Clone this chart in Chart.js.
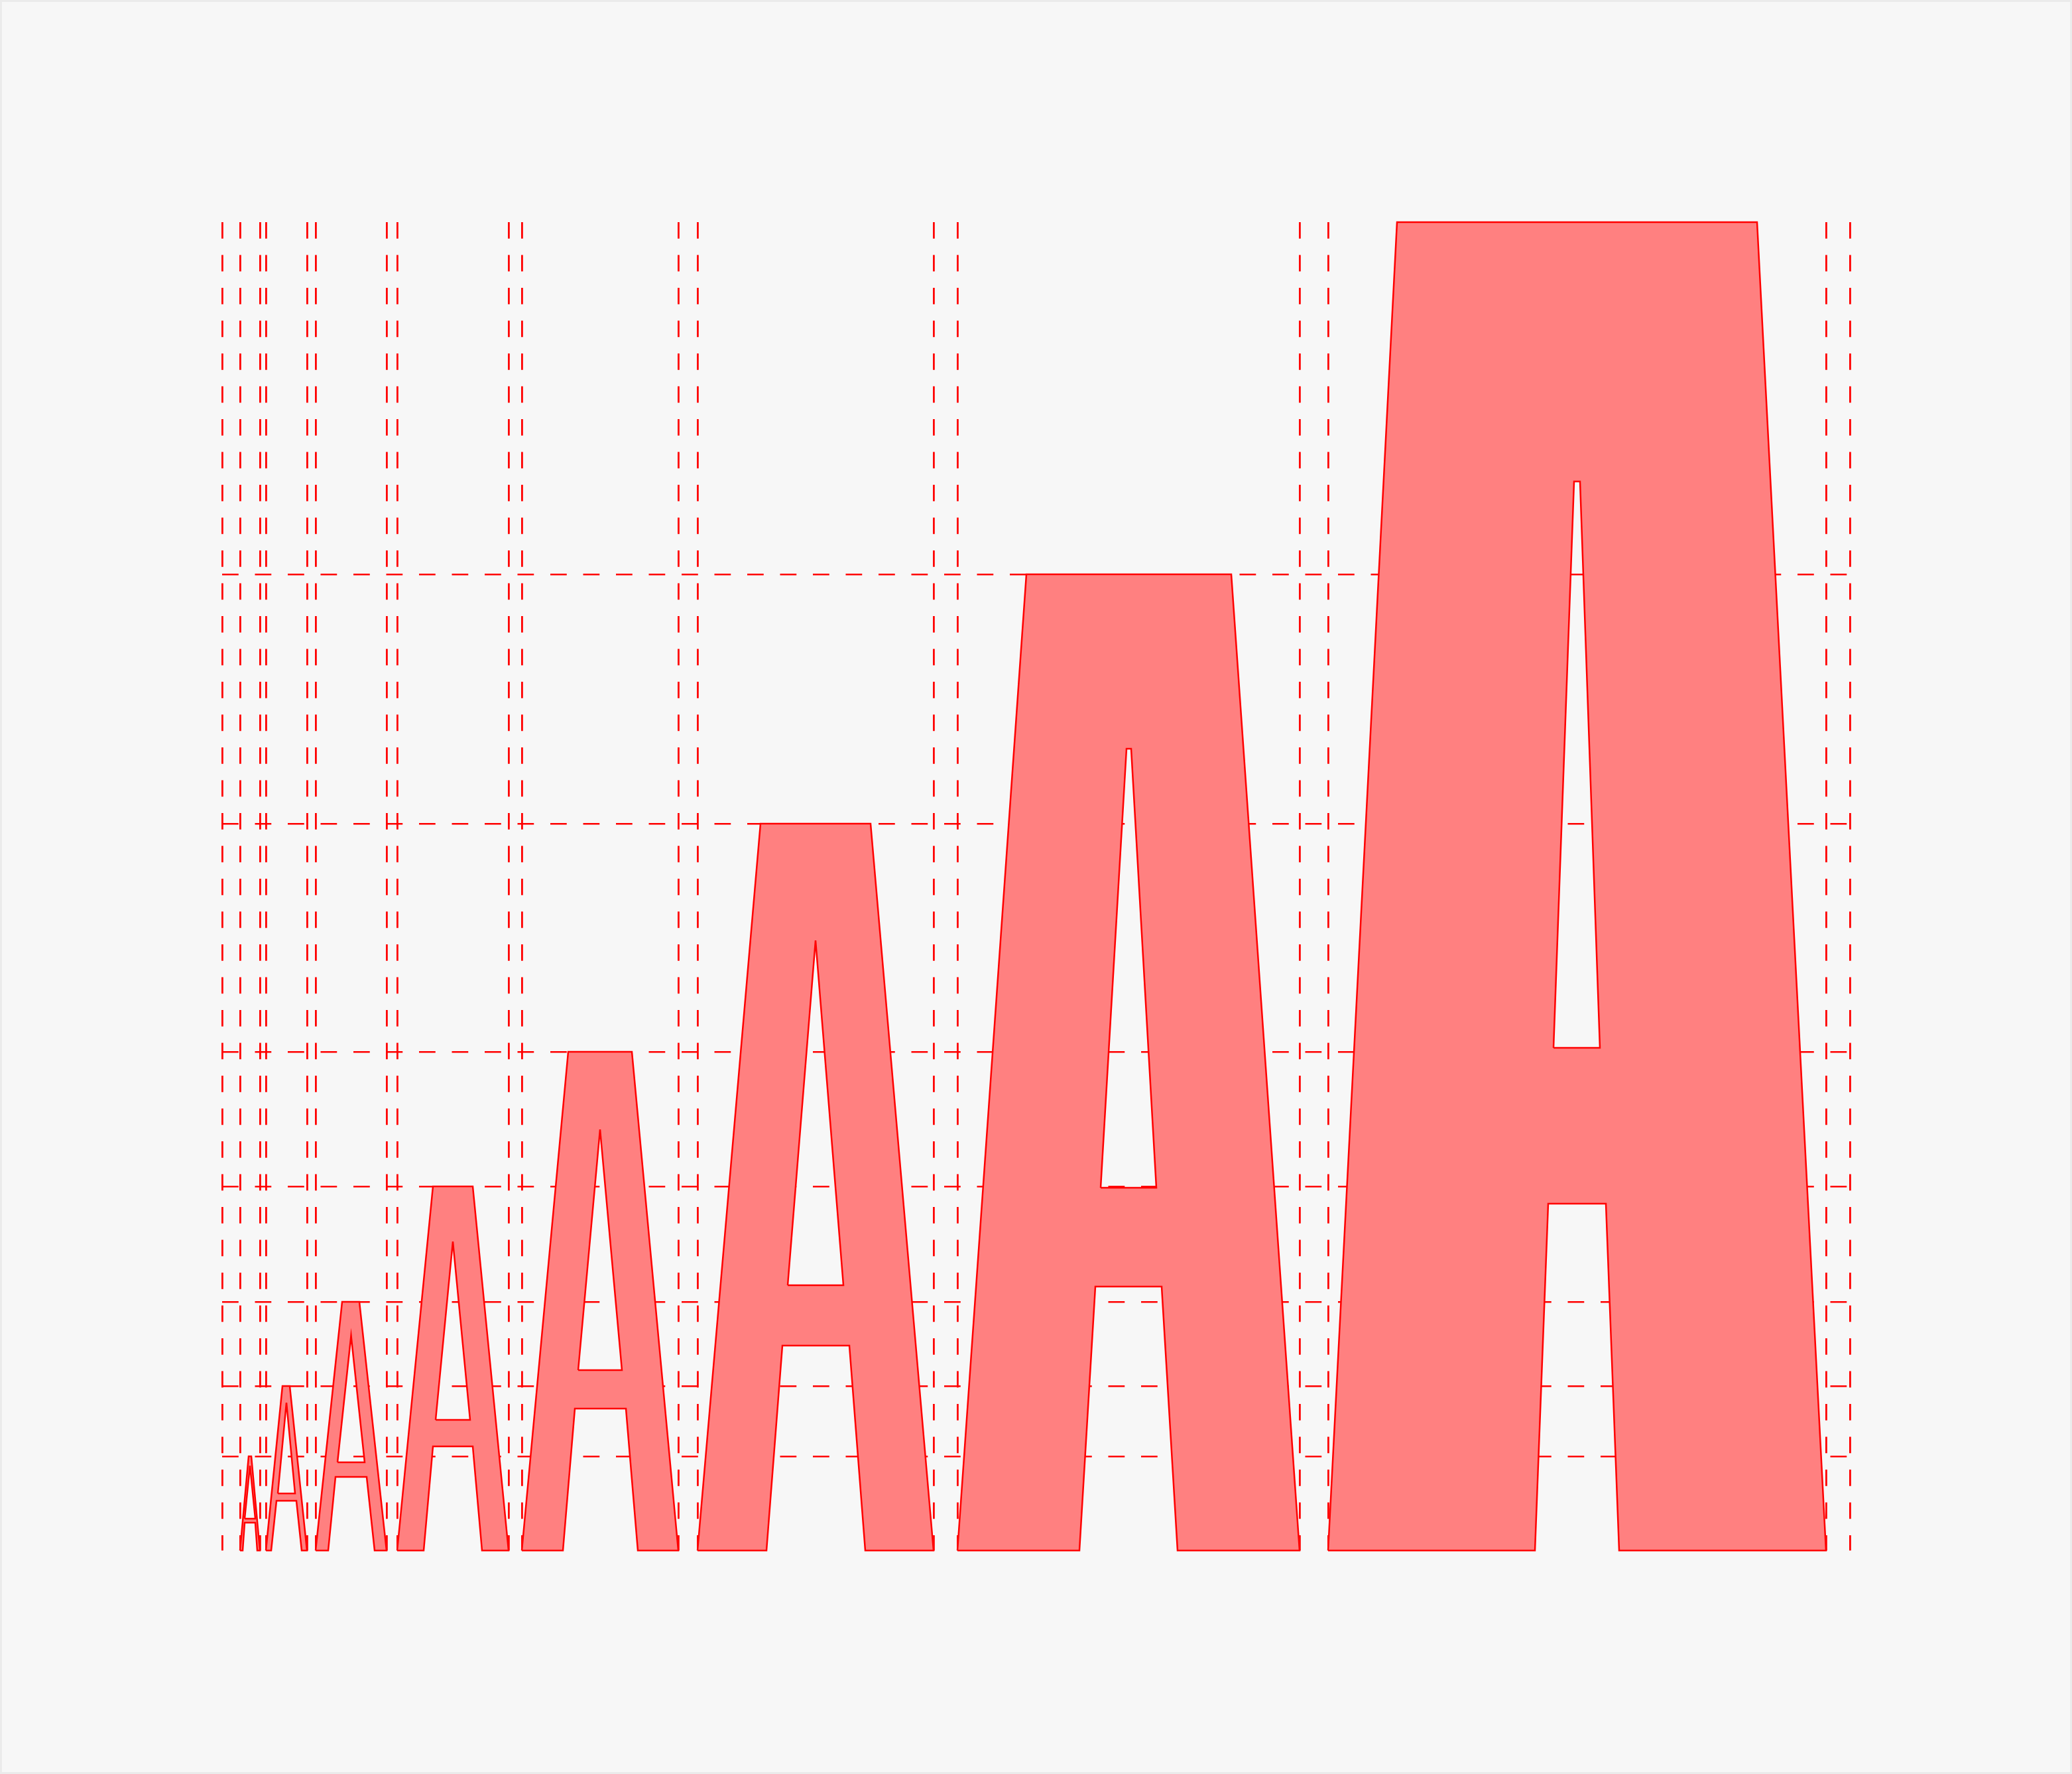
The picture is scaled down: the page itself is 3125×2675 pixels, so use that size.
<!DOCTYPE html>
<html>
<head>
    <title>Glyph extents</title>
    <script src="https://cdn.jsdelivr.net/npm/chart.js"></script>
    <style>
        html, body { margin: 0; padding: 0; background: #f7f7f7; }
        #frame { position: absolute; left: 0; top: 0; width: 3125px; height: 2675px; box-sizing: border-box; border: 3px solid #ebebeb; pointer-events: none; }
        #glyphChart { position: absolute; left: 0; top: 0; }
    </style>
</head>
<body>
    <canvas id="glyphChart" width="3125" height="2675"></canvas>
    <div id="frame"></div>
    <script>
        // axis ranges (data units)
        const xRange = [0, 245.5];
        const yRange = [0, 200.3];

        // dashed guide lines at the glyph extents
        const xLines = [0, 2.7, 5.7, 6.6, 12.8, 14.1, 24.8, 26.4, 43.2, 45.2, 68.8, 71.7, 107.3, 110.9, 162.5, 166.8, 241.9, 245.5];
        const yLines = [14.2, 24.8, 37.5, 54.9, 75.2, 109.6, 147.2];

        // outer contour of each "A": left foot, top left, top right, right foot,
        // right leg inside, bar right, bar left, left leg inside
        const outerX = [
            [2.7, 4.0, 4.4, 5.7, 5.3, 5.0, 3.4, 3.1],
            [6.6, 9.1, 10.2, 12.8, 12.0, 11.2, 8.2, 7.4],
            [14.1, 18.1, 20.7, 24.8, 23.0, 21.8, 17.1, 16.0],
            [26.4, 31.8, 37.8, 43.2, 39.2, 37.8, 31.8, 30.4],
            [45.2, 52.2, 61.8, 68.8, 62.7, 60.9, 53.2, 51.4],
            [71.7, 81.2, 97.8, 107.3, 97.0, 94.6, 84.5, 82.1],
            [110.9, 121.3, 152.2, 162.5, 144.1, 141.7, 131.7, 129.3],
            [166.8, 177.2, 231.5, 241.9, 210.7, 208.7, 200.0, 198.0]
        ];
        const outerY = [
            [0, 14.2, 14.2, 0, 0, 4.2, 4.2, 0],
            [0, 24.8, 24.8, 0, 0, 7.5, 7.5, 0],
            [0, 37.5, 37.5, 0, 0, 11.1, 11.1, 0],
            [0, 54.9, 54.9, 0, 0, 15.7, 15.7, 0],
            [0, 75.2, 75.2, 0, 0, 21.4, 21.4, 0],
            [0, 109.6, 109.6, 0, 0, 30.9, 30.9, 0],
            [0, 147.2, 147.2, 0, 0, 39.8, 39.8, 0],
            [0, 200.3, 200.3, 0, 0, 52.3, 52.3, 0]
        ];

        // counter (hole) of each "A": bottom left, bottom right, top right, top left
        const holeX = [
            [3.4, 5.0, 4.2, 4.2],
            [8.4, 11.0, 9.7, 9.7],
            [17.4, 21.5, 19.45, 19.45],
            [32.2, 37.4, 34.8, 34.8],
            [53.7, 60.3, 57.0, 57.0],
            [85.3, 93.7, 89.5, 89.5],
            [132.5, 140.9, 137.1, 136.4],
            [200.8, 207.8, 204.8, 203.9]
        ];
        const holeY = [
            [4.8, 4.8, 12.8, 12.8],
            [8.6, 8.6, 22.3, 22.3],
            [13.3, 13.3, 32.4, 32.4],
            [19.7, 19.7, 46.6, 46.6],
            [27.2, 27.2, 63.5, 63.5],
            [40.0, 40.0, 92.0, 92.0],
            [54.7, 54.7, 120.9, 120.9],
            [75.8, 75.8, 161.2, 161.2]
        ];

        const toPts = (xs, ys) => xs.map((x, i) => ({x: x, y: ys[i]}));

        const datasets = [];
        outerX.forEach((xs, k) => {
            const outer = toPts(xs, outerY[k]);
            const hole = toPts(holeX[k], holeY[k]);

            // fill path: outer contour, jump into the counter, go round it the other way, jump back
            const fillPath = outer.slice(0, 7)
                .concat(hole, [hole[0], outer[6], outer[7], outer[0]]);
            datasets.push({
                data: fillPath,
                showLine: true,
                fill: 'shape',
                backgroundColor: '#ff8080',
                borderWidth: 0,
                borderColor: 'rgba(0,0,0,0)',
                pointRadius: 0,
                order: 2
            });

            // outlines
            [outer.concat([outer[0]]), hole.concat([hole[0]])].forEach(path => {
                datasets.push({
                    data: path,
                    showLine: true,
                    fill: false,
                    borderColor: '#ff0000',
                    borderWidth: 2.5,
                    borderJoinStyle: 'miter',
                    pointRadius: 0,
                    clip: 6,
                    order: 1
                });
            });
        });

        const ctx = document.getElementById('glyphChart').getContext('2d');
        new Chart(ctx, {
            type: 'scatter',
            data: { datasets: datasets },
            options: {
                responsive: false,
                animation: false,
                devicePixelRatio: 1,
                layout: { padding: { left: 335, top: 335, right: 335, bottom: 337 } },
                plugins: { legend: { display: false }, tooltip: { enabled: false } },
                scales: {
                    x: {
                        type: 'linear',
                        min: xRange[0],
                        max: xRange[1],
                        ticks: { display: false },
                        grid: { color: '#ff0000', lineWidth: 2.8, drawTicks: false },
                        border: { display: false, dash: [24.75, 24.75] },
                        afterBuildTicks: scale => { scale.ticks = xLines.map(v => ({value: v})); },
                        afterFit: scale => { scale.height = 0; }
                    },
                    y: {
                        type: 'linear',
                        min: yRange[0],
                        max: yRange[1],
                        ticks: { display: false },
                        grid: { color: '#ff0000', lineWidth: 2.6, drawTicks: false },
                        border: { display: false, dash: [24.75, 24.75] },
                        afterBuildTicks: scale => { scale.ticks = yLines.map(v => ({value: v})); },
                        afterFit: scale => { scale.width = 0; }
                    }
                }
            }
        });
    </script>
</body>
</html>
